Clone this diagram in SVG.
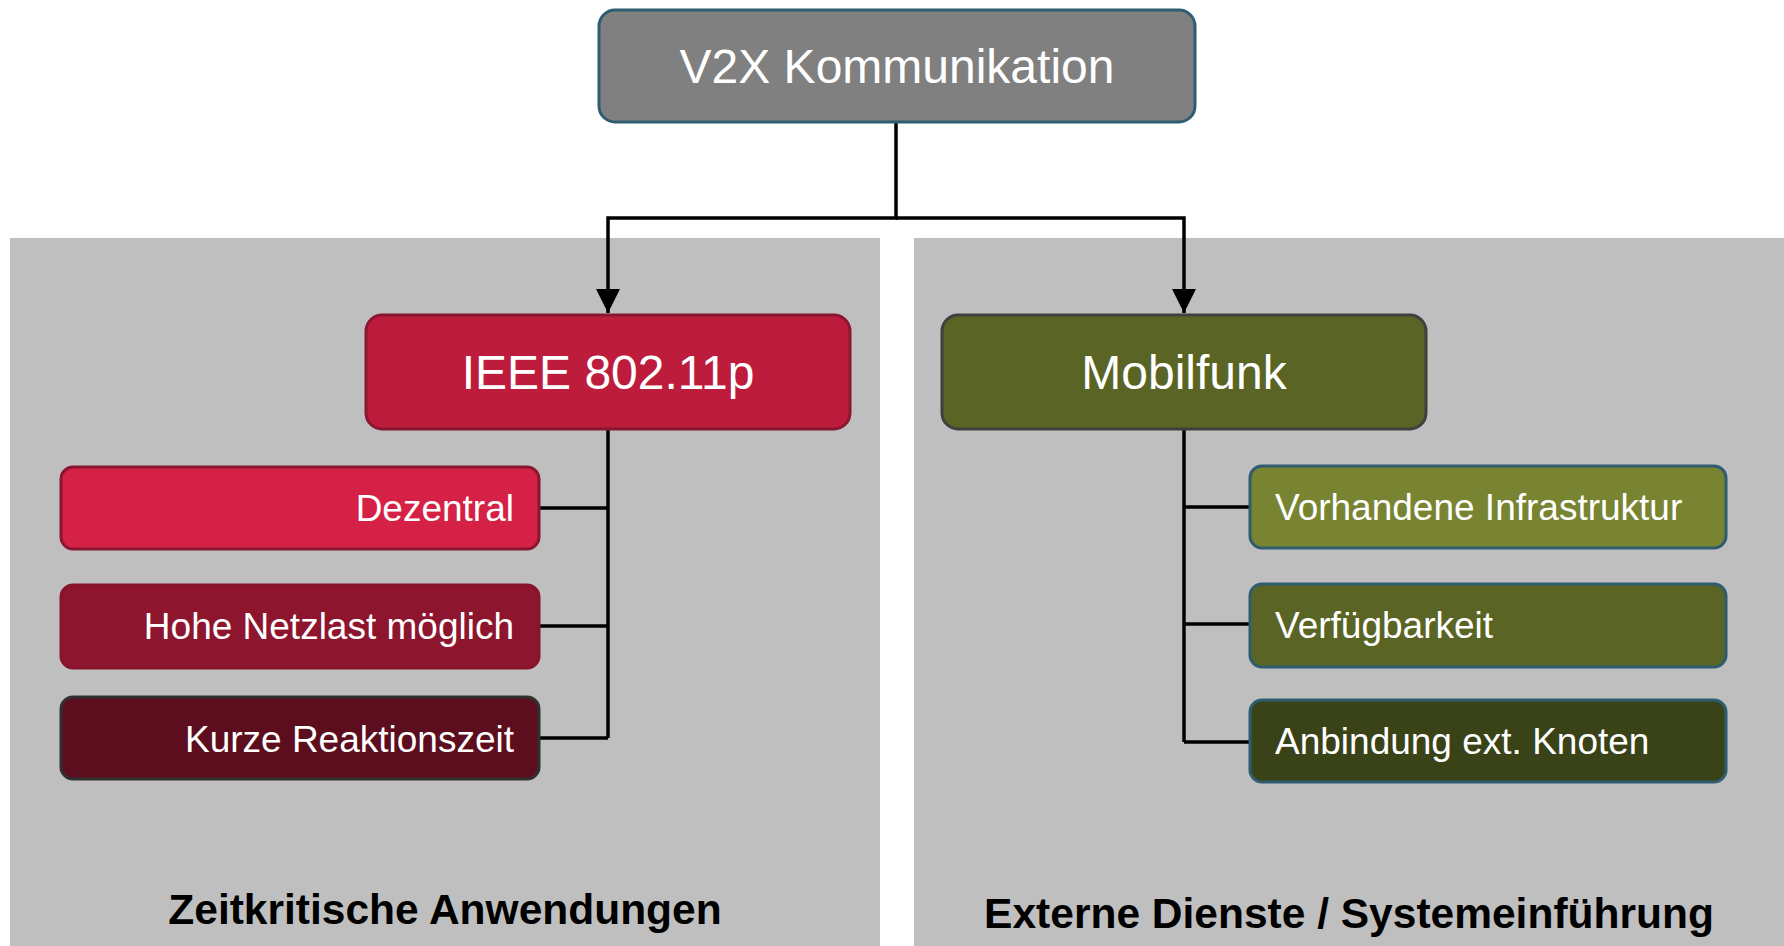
<svg xmlns="http://www.w3.org/2000/svg" width="1784" height="946" viewBox="0 0 1784 946">
<defs>
<style>
.t{font-family:"Liberation Sans",Arial,sans-serif;fill:#fff}
.big{font-size:48px}
.sm{font-size:37px}
.lbl{font-family:"Liberation Sans",Arial,sans-serif;font-weight:bold;font-size:42.5px;fill:#000}
.ln{stroke:#000;stroke-width:3.5;fill:none}
.box{stroke-width:3}
</style>
<marker id="ah" markerWidth="26" markerHeight="26" refX="24" refY="12" orient="auto" markerUnits="userSpaceOnUse">
<path d="M0,0 L24,12 L0,24 Z" fill="#000"/>
</marker>
</defs>
<rect x="0" y="0" width="1784" height="946" fill="#fff"/>
<g id="panel-left"><rect x="10" y="238" width="870" height="708" fill="#bfbfbf"/><text class="lbl" x="445" y="924" text-anchor="middle">Zeitkritische Anwendungen</text></g>
<g id="panel-right"><rect x="914" y="238" width="870" height="708" fill="#bfbfbf"/><text class="lbl" x="1349" y="928" text-anchor="middle">Externe Dienste / Systemeinführung</text></g>
<g id="connectors">
<path class="ln" d="M896,122 V218 H608 V313" marker-end="url(#ah)"/>
<path class="ln" d="M896,218 H1184 V313" marker-end="url(#ah)"/>
<path class="ln" d="M608,429 V738 M539,508 H608 M539,626 H608 M539,738 H608"/>
<path class="ln" d="M1184,429 V742 M1184,507 H1250 M1184,624 H1250 M1184,742 H1250"/>
</g>
<g id="root"><rect class="box" x="599" y="10" width="596" height="112" rx="16" fill="#808080" stroke="#2e5d72"/><text class="t big" x="897" y="83" text-anchor="middle">V2X Kommunikation</text></g>
<g id="ieee"><rect class="box" x="366" y="315" width="484" height="114" rx="16" fill="#bd1c3c" stroke="#8a1730"/><text class="t big" x="608" y="389" text-anchor="middle">IEEE 802.11p</text></g>
<g id="mobilfunk"><rect class="box" x="942" y="315" width="484" height="114" rx="16" fill="#5a6424" stroke="#404040"/><text class="t big" x="1184" y="389" text-anchor="middle">Mobilfunk</text></g>
<g id="dezentral"><rect class="box" x="61" y="467" width="478" height="82" rx="12" fill="#d62146" stroke="#8a1730"/><text class="t sm" x="514" y="521" text-anchor="end">Dezentral</text></g>
<g id="netzlast"><rect class="box" x="61" y="585" width="478" height="83" rx="12" fill="#8d152d" stroke="#86142b"/><text class="t sm" x="514" y="639" text-anchor="end">Hohe Netzlast möglich</text></g>
<g id="reaktion"><rect class="box" x="61" y="697" width="478" height="82" rx="12" fill="#5c0e1e" stroke="#303030"/><text class="t sm" x="514" y="752" text-anchor="end">Kurze Reaktionszeit</text></g>
<g id="infra"><rect class="box" x="1250" y="466" width="476" height="82" rx="12" fill="#788431" stroke="#2e5d72"/><text class="t sm" x="1275" y="520">Vorhandene Infrastruktur</text></g>
<g id="verfueg"><rect class="box" x="1250" y="584" width="476" height="83" rx="12" fill="#5a6424" stroke="#2e5d72"/><text class="t sm" x="1275" y="638">Verfügbarkeit</text></g>
<g id="anbindung"><rect class="box" x="1250" y="700" width="476" height="82" rx="12" fill="#3a4218" stroke="#2e5d72"/><text class="t sm" x="1275" y="754">Anbindung ext. Knoten</text></g>
</svg>
